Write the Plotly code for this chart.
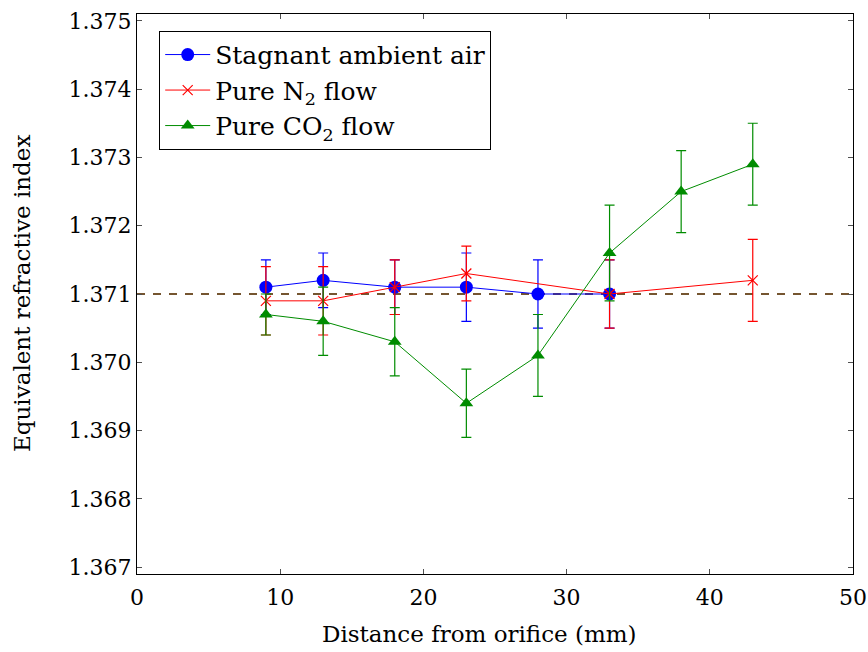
import plotly.graph_objects as go

# Data
air_x = [9, 13, 18, 23, 28, 33]
air_y = [1.3711, 1.3712, 1.3711, 1.3711, 1.3710, 1.3710]
air_err = [0.0004, 0.0004, 0.0004, 0.0005, 0.0005, 0.0005]

n2_x = [9, 13, 18, 23, 33, 43]
n2_y = [1.3709, 1.3709, 1.3711, 1.3713, 1.3710, 1.3712]
n2_err = [0.0005, 0.0005, 0.0004, 0.0004, 0.0005, 0.0006]

co2_x = [9, 13, 18, 23, 28, 33, 38, 43]
co2_y = [1.3707, 1.3706, 1.3703, 1.3694, 1.3701, 1.3716, 1.3725, 1.3729]
co2_err = [0.0003, 0.0005, 0.0005, 0.0005, 0.0006, 0.0007, 0.0006, 0.0006]

ref_x = [0, 50]
ref_y = [1.3710, 1.3710]

x_ticks = [0, 10, 20, 30, 40, 50]
y_ticks = [1.367, 1.368, 1.369, 1.370, 1.371, 1.372, 1.373, 1.374, 1.375]

FONT = "DejaVu Serif, Liberation Serif, serif"
BLUE = "rgb(0,0,255)"
RED = "rgb(255,0,0)"
GREEN = "rgb(0,140,0)"
BROWN = "rgb(117,85,48)"

fig = go.Figure()

fig.add_trace(go.Scatter(
    x=ref_x, y=ref_y, mode="lines", showlegend=False,
    line=dict(color=BROWN, width=2, dash="8px,8px"), hoverinfo="skip"))

fig.add_trace(go.Scatter(
    x=air_x, y=air_y, mode="lines+markers", name="Stagnant ambient air",
    legendgroup="a",
    line=dict(color=BLUE, width=1),
    marker=dict(symbol="circle", size=13, color=BLUE),
    error_y=dict(type="data", array=air_err, visible=True, color=BLUE,
                 thickness=1.2, width=5)))

fig.add_trace(go.Scatter(
    x=n2_x, y=n2_y, mode="lines+markers", name="Pure N<sub>2</sub> flow",
    legendgroup="b",
    line=dict(color=RED, width=1),
    marker=dict(symbol="x-thin", size=10, color=RED, line=dict(color=RED, width=1.2)),
    error_y=dict(type="data", array=n2_err, visible=True, color=RED,
                 thickness=1.2, width=5)))

fig.add_trace(go.Scatter(
    x=co2_x, y=co2_y, mode="lines+markers", name="Pure CO<sub>2</sub> flow",
    legendgroup="c",
    line=dict(color=GREEN, width=1),
    marker=dict(symbol="triangle-up", size=12, color=GREEN),
    error_y=dict(type="data", array=co2_err, visible=True, color=GREEN,
                 thickness=1.2, width=5)))

axis_common = dict(
    showgrid=False, zeroline=False, showline=True, linecolor="black", linewidth=1,
    mirror="allticks", ticks="inside", ticklen=5, tickcolor="rgb(80,80,80)",
    tickfont=dict(family=FONT, size=22, color="black"), automargin=False,
    ticklabeloverflow="allow",
)

fig.update_layout(
    width=868, height=652,
    margin=dict(l=137, r=15, t=14, b=78),
    paper_bgcolor="white", plot_bgcolor="white",
    font=dict(family=FONT, size=22, color="black"),
    xaxis=dict(range=[0, 50], tickvals=x_ticks, ticktext=[str(v) for v in x_ticks],
               ticklabelstandoff=4, **axis_common),
    yaxis=dict(range=[1.3669, 1.37510], tickvals=y_ticks,
               ticktext=[f"{v:.3f}" for v in y_ticks],
               **axis_common),
    legend=dict(x=0.031, y=0.970, xanchor="left", yanchor="top",
                bordercolor="black", borderwidth=1, bgcolor="white",
                font=dict(family=FONT, size=25), tracegroupgap=0, itemwidth=45),
    annotations=[
        dict(text="Distance from orifice (mm)", xref="paper", yref="paper",
             x=0.478, y=-0.107, xanchor="center", yanchor="middle",
             showarrow=False, font=dict(family=FONT, size=23, color="black")),
        dict(text="Equivalent refractive index", xref="paper", yref="paper",
             x=-0.1606, y=0.5, xanchor="center", yanchor="middle", textangle=-90,
             showarrow=False, font=dict(family=FONT, size=23, color="black")),
    ],
)

fig.write_html(
    "out.html",
    config={"displayModeBar": False},
    post_script="document.body.style.margin='0';document.body.style.overflow='hidden';",
)
